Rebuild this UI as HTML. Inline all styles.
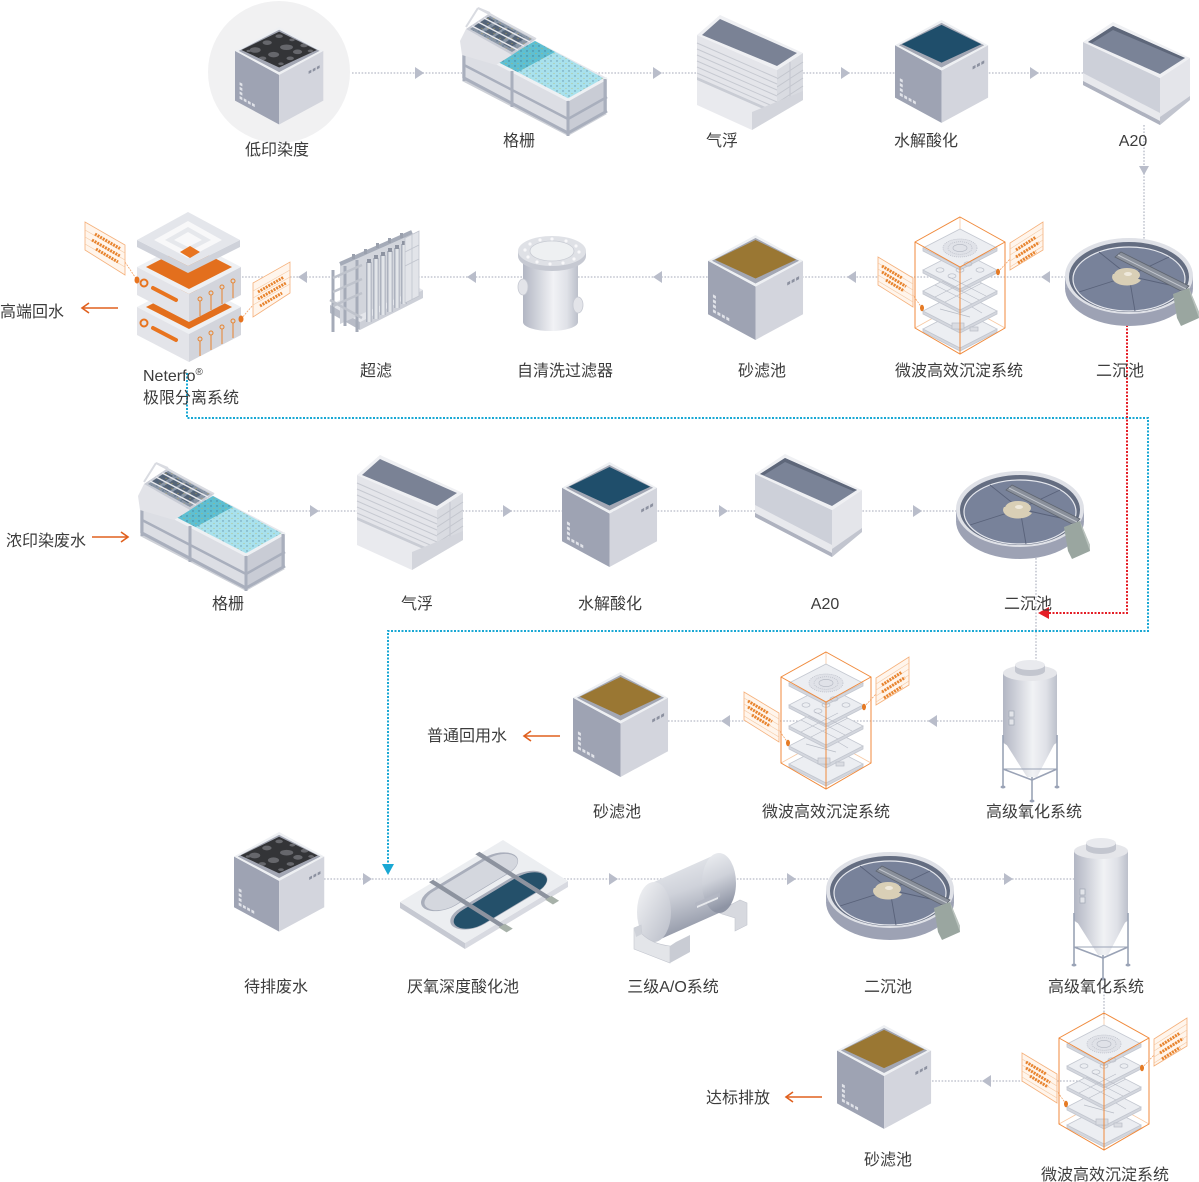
<!DOCTYPE html>
<html><head><meta charset="utf-8">
<style>
html,body{margin:0;padding:0;background:#fff;}
svg{display:block;}
text{font-family:"Liberation Sans","Noto Sans CJK SC",sans-serif;font-size:16px;fill:#3c3c3c;}
</style></head><body>
<svg width="1199" height="1182" viewBox="0 0 1199 1182" xmlns="http://www.w3.org/2000/svg" xmlns:xlink="http://www.w3.org/1999/xlink">
<defs>
 <linearGradient id="gTank" x1="0" y1="0" x2="1" y2="0">
  <stop offset="0" stop-color="#b2b6c3"/><stop offset="0.55" stop-color="#f1f2f5"/><stop offset="0.8" stop-color="#dfe1e7"/><stop offset="1" stop-color="#bcc0cb"/>
 </linearGradient>
 <linearGradient id="gTube" x1="0" y1="0" x2="1" y2="0">
  <stop offset="0" stop-color="#9fa5b3"/><stop offset="0.5" stop-color="#eef0f3"/><stop offset="1" stop-color="#aeb3bf"/>
 </linearGradient>
 <linearGradient id="gAO" x1="0" y1="0" x2="0.25" y2="1">
  <stop offset="0" stop-color="#eef0f3"/><stop offset="0.5" stop-color="#cfd2da"/><stop offset="1" stop-color="#8e94a4"/>
 </linearGradient>
 <linearGradient id="gAOcap" x1="0" y1="0" x2="1" y2="1">
  <stop offset="0" stop-color="#f3f4f6"/><stop offset="1" stop-color="#b9bdc8"/>
 </linearGradient>
 <pattern id="pDots" width="6" height="5" patternUnits="userSpaceOnUse">
  <circle cx="1" cy="1" r="0.7" fill="#3b5d78"/><circle cx="4" cy="3.5" r="0.6" fill="#c2ad4c"/>
 </pattern>
 <clipPath id="cTop"><polygon points="48,5 89,25 48,44 7,25"/></clipPath>

 <g id="cube">
  <polygon points="0,26 48,52 48,106 0,80" fill="#9ea3b3"/>
  <polygon points="48,52 96,26 96,80 48,106" fill="#d3d5dd"/>
  <polygon points="48,0 96,26 48,52 0,26" fill="#eef0f3"/>
  <polygon points="48,3 92,26 48,49 4,26" fill="#a3a7b4"/>
  <polygon points="48,5 89,25 48,44 7,25" fill="currentColor"/>
  <polygon points="80,48 83,46.4 83,49.4 80,51" fill="#8c91a0"/>
  <polygon points="84.5,45.6 87.5,44 87.5,47 84.5,48.6" fill="#8c91a0"/>
  <polygon points="89,43.2 92,41.6 92,44.6 89,46.2" fill="#8c91a0"/>
  <polygon points="5,60 8,61.6 8,64.6 5,63" fill="#e1e3e9"/>
  <polygon points="5,65 8,66.6 8,69.6 5,68" fill="#e1e3e9"/>
  <polygon points="5,70 8,71.6 8,74.6 5,73" fill="#e1e3e9"/>
  <polygon points="5,75 8,76.6 8,79.6 5,78" fill="#e1e3e9"/>
  <polygon points="9.5,77.5 12.5,79.1 12.5,82.1 9.5,80.5" fill="#e1e3e9"/>
  <polygon points="14,80 17,81.6 17,84.6 14,83" fill="#e1e3e9"/>
  <polygon points="18.5,82.5 21.5,84.1 21.5,87.1 18.5,85.5" fill="#e1e3e9"/>
 </g>
 <g id="cubeDirty">
  <use xlink:href="#cube" color="#333437"/>
  <g clip-path="url(#cTop)" fill="#66676c">
   <ellipse cx="22" cy="25" rx="6" ry="3"/>
   <ellipse cx="35" cy="17" rx="5" ry="2.5"/>
   <ellipse cx="48" cy="10" rx="4" ry="2"/>
   <ellipse cx="56" cy="22" rx="7" ry="3"/>
   <ellipse cx="42" cy="30" rx="6" ry="3"/>
   <ellipse cx="68" cy="27" rx="5" ry="2.5"/>
   <ellipse cx="60" cy="34" rx="4" ry="2"/>
   <ellipse cx="30" cy="34" rx="4" ry="2"/>
   <ellipse cx="75" cy="20" rx="4" ry="2"/>
   <ellipse cx="50" cy="40" rx="3" ry="1.5"/>
   <ellipse cx="15" cy="26" rx="2.5" ry="1.3"/>
   <ellipse cx="82" cy="26" rx="3" ry="1.5"/>
   <ellipse cx="62" cy="14" rx="3" ry="1.5"/>
  </g>
 </g>

 <g id="a20">
  <polygon points="0,25 77,61 77,108 0,68" fill="#cdd0d9"/>
  <polygon points="0,56 77,96 77,104 0,64" fill="#e8e9ed"/>
  <polygon points="0,64 77,104 77,108 0,68" fill="#aeb2bf"/>
  <polygon points="77,61 107,41 107,83 77,108" fill="#e4e5ea"/>
  <polygon points="77,100 107,79 107,83 77,108" fill="#c2c5cf"/>
  <polygon points="0,25 30,5 107,41 77,61" fill="#eff0f3"/>
  <polygon points="5,25 30,9 102,41 77,57" fill="#7a8397"/>
  <polygon points="5,25 30,9 102,41 98,42 30,13 9,26" fill="#5e677a"/>
 </g>

 <g id="float">
  <polygon points="82,59 108,42 108,86 82,101" fill="#d9dbe1"/>
  <line x1="95" y1="51" x2="95" y2="94" stroke="#c3c6ce" stroke-width="1"/>
  <line x1="82" y1="68" x2="108" y2="51" stroke="#c3c6ce"/>
  <line x1="82" y1="76" x2="108" y2="59" stroke="#c3c6ce"/>
  <line x1="82" y1="84" x2="108" y2="67" stroke="#c3c6ce"/>
  <line x1="82" y1="92" x2="108" y2="75" stroke="#c3c6ce"/>
  <polygon points="2,24 82,59 82,101 2,66" fill="#e4e5ea"/>
  <line x1="2" y1="32" x2="82" y2="67" stroke="#c6c9d1"/>
  <line x1="2" y1="38" x2="82" y2="73" stroke="#c6c9d1"/>
  <line x1="2" y1="44" x2="82" y2="79" stroke="#c6c9d1"/>
  <line x1="2" y1="50" x2="82" y2="85" stroke="#c6c9d1"/>
  <line x1="2" y1="56" x2="82" y2="91" stroke="#c6c9d1"/>
  <line x1="2" y1="62" x2="82" y2="97" stroke="#c6c9d1"/>
  <polygon points="2,66 82,101 108,86 108,89 57,119 2,94" fill="#e9eaee"/>
  <polygon points="2,66 82,101 82,104 2,69" fill="#c9ccd4"/>
  <polygon points="57,101 108,80 108,89 57,119" fill="#d3d5dc"/>
  <polygon points="2,24 25,4 108,42 82,59" fill="#eff0f3"/>
  <polygon points="7,24 25,8 102,42 82,55" fill="#7a8295"/>
 </g>

 <g id="screen">
  <polygon points="2,76 108,131 147,109 41,54" fill="#cdd0d7"/>
  <polygon points="41,18 147,73 147,106 41,51" fill="#e6e7ec"/>
  <polygon points="2,40 41,18 41,51 2,73" fill="#dcdee4"/>
  <polygon points="36,58 75,36 145,74 106,95" fill="#a8e1ed"/>
  <polygon points="36,58 75,36 145,74 106,95" fill="url(#pDots)" opacity="0.6"/>
  <polygon points="36,58 75,36 95,47 56,68" fill="#5ebfd2"/>
  <polygon points="36,58 75,36 95,47 56,68" fill="url(#pDots)" opacity="0.7"/>
  <polygon points="2,40 108,95 108,128 2,73" fill="#dcdee4"/>
  <polygon points="108,95 147,73 147,106 108,128" fill="#c9ccd5"/>
  <line x1="2" y1="40" x2="108" y2="95" stroke="#eef0f3" stroke-width="3"/>
  <line x1="108" y1="95" x2="147" y2="73" stroke="#eef0f3" stroke-width="3"/>
  <line x1="4" y1="60" x2="108" y2="114" stroke="#a9afbd" stroke-width="2.5"/>
  <line x1="4" y1="73" x2="108" y2="128" stroke="#a9afbd" stroke-width="3"/>
  <line x1="108" y1="128" x2="147" y2="106" stroke="#a9afbd" stroke-width="3"/>
  <line x1="108" y1="114" x2="147" y2="92" stroke="#a9afbd" stroke-width="2.5"/>
  <line x1="4" y1="41" x2="4" y2="76" stroke="#a9afbd" stroke-width="3"/>
  <line x1="52" y1="66" x2="52" y2="102" stroke="#a9afbd" stroke-width="3"/>
  <line x1="108" y1="96" x2="108" y2="131" stroke="#a9afbd" stroke-width="3"/>
  <line x1="145" y1="74" x2="145" y2="108" stroke="#a9afbd" stroke-width="3"/>
  <polygon points="0,36 6,24 52,50 36,60 2,50" fill="#e2e3e8"/>
  <polygon points="6,24 30,8 76,34 52,50" fill="#c9ccd5"/>
  <polygon points="10,24 30,11 72,34 52,47" fill="#8a96a6"/>
  <g fill="#566578">
   <polygon points="13,22 28,12 35,16 20,26"/>
   <polygon points="23,28 38,18 45,22 30,32"/>
   <polygon points="33,33 48,23 55,27 40,37"/>
   <polygon points="43,39 58,29 65,33 50,43"/>
  </g>
  <polygon points="10,24 30,11 72,34 52,47" fill="url(#pDots)" opacity="0.6"/>
  <line x1="12" y1="21" x2="58" y2="45" stroke="#e8e9ee" stroke-width="1.5"/>
  <line x1="18" y1="17" x2="64" y2="41" stroke="#e8e9ee" stroke-width="1.5"/>
  <line x1="24" y1="13" x2="70" y2="37" stroke="#e8e9ee" stroke-width="1.5"/>
  <line x1="18" y1="3" x2="76" y2="34" stroke="#d9dbe1" stroke-width="2"/>
  <line x1="6" y1="22" x2="18" y2="3" stroke="#d9dbe1" stroke-width="2"/>
  <line x1="30" y1="8" x2="18" y2="3" stroke="#d9dbe1" stroke-width="2"/>
 </g>

 <g id="clar">
  <ellipse cx="0" cy="12" rx="64" ry="38" fill="#9da2b4"/>
  <rect x="-64" y="0" width="128" height="12" fill="#a3a8b9"/>
  <ellipse cx="0" cy="0" rx="64" ry="38" fill="#dfe1e7"/>
  <ellipse cx="0" cy="1" rx="60" ry="35" fill="#646d81"/>
  <ellipse cx="0" cy="3" rx="56" ry="32" fill="#78829a" stroke="#e6e8ee" stroke-width="1.2"/>
  <g stroke="#59627a" stroke-width="0.9">
   <line x1="0" y1="0" x2="-30" y2="-24"/>
   <line x1="0" y1="0" x2="40" y2="-19"/>
   <line x1="0" y1="0" x2="-50" y2="16"/>
   <line x1="0" y1="0" x2="6" y2="35"/>
   <line x1="0" y1="0" x2="54" y2="12"/>
  </g>
  <path d="M-16,-2 A14,8 0 0 0 12,4 L-2,-2 Z" fill="#d9cfb6"/>
  <ellipse cx="-2" cy="-1" rx="13" ry="7" fill="#d9cfb6"/>
  <ellipse cx="-1" cy="-2" rx="4" ry="2" fill="#efe9dc"/>
  <polygon points="-14,-19 -8,-24 60,10 54,16" fill="#8a909b" stroke="#5f6570" stroke-width="0.8"/>
  <line x1="-11" y1="-21" x2="57" y2="13" stroke="#c2c6ce" stroke-width="1"/>
  <polygon points="44,18 60,12 70,36 70,42 52,50 48,42" fill="#9aa6a0"/>
  <polygon points="60,12 70,36 70,42 62,20" fill="#b9c2bd"/>
 </g>

 <g id="mw">
  <line x1="-38" y1="91" x2="-47" y2="78" stroke="#f2a469" stroke-width="0.8" stroke-dasharray="2 1"/>
  <line x1="38" y1="55" x2="50" y2="42" stroke="#f2a469" stroke-width="0.8" stroke-dasharray="2 1"/>
  <polygon points="-82,40 -47,61 -47,90 -82,68" fill="#fff5ec" stroke="#f5b07a" stroke-width="0.8"/>
  <g stroke="#f5c9a3" stroke-width="0.6">
   <line x1="-82" y1="46" x2="-47" y2="67"/><line x1="-82" y1="52" x2="-47" y2="73"/><line x1="-82" y1="58" x2="-47" y2="79"/><line x1="-82" y1="64" x2="-47" y2="85"/>
  </g>
  <g stroke="#e8842e" stroke-width="3" stroke-dasharray="2 1">
   <line x1="-78" y1="49" x2="-58" y2="61"/><line x1="-78" y1="55" x2="-54" y2="69.5"/><line x1="-74" y1="63" x2="-56" y2="74"/>
  </g>
  <polygon points="50,26 83,5 83,33 50,53" fill="#fff5ec" stroke="#f5b07a" stroke-width="0.8"/>
  <g stroke="#f5c9a3" stroke-width="0.6">
   <line x1="50" y1="32" x2="83" y2="11"/><line x1="50" y1="38" x2="83" y2="17"/><line x1="50" y1="44" x2="83" y2="23"/><line x1="50" y1="50" x2="83" y2="29"/>
  </g>
  <g stroke="#e8842e" stroke-width="3" stroke-dasharray="2 1">
   <line x1="56" y1="33" x2="76" y2="20"/><line x1="56" y1="40" x2="79" y2="25.5"/><line x1="58" y1="46" x2="76" y2="34.5"/>
  </g>
  <line x1="0" y1="0" x2="0" y2="86" stroke="#f7c8a2" stroke-width="0.8"/>
  <line x1="-45" y1="111" x2="0" y2="86" stroke="#f7c8a2" stroke-width="0.8"/>
  <line x1="45" y1="111" x2="0" y2="86" stroke="#f7c8a2" stroke-width="0.8"/>
  <g stroke="#c3c7d0" stroke-width="0.8">
   <polygon points="-37,112 0,131 37,112 37,115 0,134 -37,115" fill="#d4d7de"/>
   <polygon points="0,93 37,112 0,131 -37,112" fill="#eceef2"/>
   <polygon points="-37,94 0,113 37,94 37,97 0,116 -37,97" fill="#d4d7de"/>
   <polygon points="0,75 37,94 0,113 -37,94" fill="#eceef2"/>
   <polygon points="-37,74 0,93 37,74 37,77 0,96 -37,77" fill="#d4d7de"/>
   <polygon points="0,55 37,74 0,93 -37,74" fill="#eceef2"/>
   <polygon points="-37,53 0,72 37,53 37,56 0,75 -37,56" fill="#d4d7de"/>
   <polygon points="0,34 37,53 0,72 -37,53" fill="#eceef2"/>
   <polygon points="-37,31 0,50 37,31 37,34 0,53 -37,34" fill="#d4d7de"/>
   <polygon points="0,12 37,31 0,50 -37,31" fill="#eceef2"/>
  </g>
  <g fill="none" stroke="#b8bcc6" stroke-width="0.7">
   <ellipse cx="0" cy="31" rx="17" ry="9" fill="#e0e2e8" stroke-dasharray="1 1"/>
   <ellipse cx="0" cy="31" rx="12" ry="6.3" stroke-dasharray="1 1"/>
   <ellipse cx="0" cy="31" rx="7" ry="3.6"/>
   <ellipse cx="-20" cy="53" rx="4" ry="2.2"/><ellipse cx="-8" cy="59" rx="4" ry="2.2"/><ellipse cx="8" cy="47" rx="4" ry="2.2"/><ellipse cx="20" cy="53" rx="4" ry="2.2"/><ellipse cx="0" cy="53" rx="4" ry="2.2"/>
   <line x1="-25" y1="68" x2="12" y2="87"/><line x1="-18" y1="64" x2="19" y2="83"/><line x1="-11" y1="60" x2="26" y2="79"/><line x1="-25" y1="80" x2="12" y2="61"/><line x1="-15" y1="85" x2="22" y2="66"/>
   <line x1="-20" y1="92" x2="10" y2="100"/><line x1="12" y1="90" x2="22" y2="96"/>
   <rect x="-8" y="106" width="12" height="6" fill="#dadce2"/><rect x="10" y="110" width="8" height="4" fill="#dadce2"/>
  </g>
  <g fill="none" stroke="#f08a3c" stroke-width="1">
   <polygon points="0,0 45,25 45,111 0,137 -45,111 -45,25"/>
   <polyline points="-45,25 0,50 45,25"/>
   <line x1="0" y1="50" x2="0" y2="137"/>
  </g>
  <ellipse cx="38" cy="55" rx="2" ry="3.2" fill="#e57a24"/>
  <ellipse cx="-38" cy="91" rx="2" ry="3.2" fill="#e57a24"/>
 </g>

 <g id="tower">
  <line x1="2" y1="74" x2="2" y2="127" stroke="#9aa3b6" stroke-width="1.6"/>
  <polygon points="-27,66 27,66 7,104 -3,104" fill="url(#gTank)"/>
  <rect x="-27" y="0" width="54" height="68" fill="url(#gTank)"/>
  <ellipse cx="0" cy="68" rx="27" ry="8" fill="url(#gTank)"/>
  <ellipse cx="0" cy="0" rx="27" ry="8" fill="#e5e6ea"/>
  <rect x="-15" y="-8" width="30" height="6" fill="#c3c6cf"/>
  <ellipse cx="0" cy="-2" rx="15" ry="5" fill="#c3c6cf"/>
  <ellipse cx="0" cy="-8" rx="15" ry="5" fill="#e9eaee"/>
  <rect x="-21" y="38" width="5" height="6" fill="#e2e4e9" stroke="#9fa5b3" stroke-width="0.7"/>
  <rect x="-21" y="46" width="5" height="6" fill="#e2e4e9" stroke="#9fa5b3" stroke-width="0.7"/>
  <g stroke="#9aa3b6" stroke-width="1.6" fill="none">
   <line x1="-27" y1="62" x2="-27" y2="113"/>
   <line x1="27" y1="62" x2="27" y2="113"/>
   <polyline points="-27,96 2,107 27,96"/>
   <line x1="-27" y1="96" x2="27" y2="96" stroke-width="1"/>
  </g>
  <ellipse cx="-27" cy="114" rx="2.5" ry="1.5" fill="#9aa3b6"/>
  <ellipse cx="27" cy="114" rx="2.5" ry="1.5" fill="#9aa3b6"/>
  <ellipse cx="2" cy="128" rx="2.5" ry="1.5" fill="#9aa3b6"/>
 </g>
</defs>

<circle cx="279" cy="72" r="71" fill="#f1f1f2"/>

<g stroke="#c3c6d0" stroke-width="1.6" stroke-dasharray="1.6 1.6" fill="none">
 <path d="M352,73 H1083"/>
 <path d="M1144,125 V245"/>
 <path d="M242,277 H1070"/>
 <path d="M248,511 H960"/>
 <path d="M1036,558 V665"/>
 <path d="M668,721 H1003"/>
 <path d="M324,879 H1075"/>
 <path d="M1104,985 V1020"/>
 <path d="M932,1081 H1100"/>
</g>
<g fill="#b9bdca">
 <polygon points="415,67 424,73 415,79"/>
 <polygon points="653,67 662,73 653,79"/>
 <polygon points="841,67 850,73 841,79"/>
 <polygon points="1030,67 1039,73 1030,79"/>
 <polygon points="1139,166 1149,166 1144,175"/>
 <polygon points="1050,271 1041,277 1050,283"/>
 <polygon points="856,271 847,277 856,283"/>
 <polygon points="662,271 653,277 662,283"/>
 <polygon points="476,271 467,277 476,283"/>
 <polygon points="307,271 298,277 307,283"/>
 <polygon points="310,505 319,511 310,517"/>
 <polygon points="503,505 512,511 503,517"/>
 <polygon points="719,505 728,511 719,517"/>
 <polygon points="913,505 922,511 913,517"/>
 <polygon points="937,715 928,721 937,727"/>
 <polygon points="730,715 721,721 730,727"/>
 <polygon points="363,873 372,879 363,885"/>
 <polygon points="609,873 618,879 609,885"/>
 <polygon points="787,873 796,879 787,885"/>
 <polygon points="1004,873 1013,879 1004,885"/>
 <polygon points="991,1075 982,1081 991,1087"/>
</g>

<path d="M187,373 V418 H1148 V631 H388 V866" fill="none" stroke="#19a8d4" stroke-width="2" stroke-dasharray="2 1.5"/>
<polygon points="382,864 394,864 388,875" fill="#19a8d4"/>
<path d="M1127,325 V613 H1048" fill="none" stroke="#e41e26" stroke-width="2" stroke-dasharray="2 1.5"/>
<polygon points="1049,607 1049,619 1038,613" fill="#e41e26"/>

<g stroke="#e0601e" stroke-width="1.6" fill="none">
 <line x1="82" y1="308" x2="118" y2="308"/><polyline points="89,303 82,308 89,313"/>
 <line x1="92" y1="537" x2="128" y2="537"/><polyline points="121,532 128,537 121,542"/>
 <line x1="524" y1="736" x2="560" y2="736"/><polyline points="531,731 524,736 531,741"/>
 <line x1="786" y1="1097" x2="822" y2="1097"/><polyline points="793,1092 786,1097 793,1102"/>
</g>

<!-- ROW 1 -->
<use xlink:href="#cubeDirty" transform="translate(235,27) scale(0.92)"/>
<use xlink:href="#screen" transform="translate(460,5)"/>
<use xlink:href="#float" transform="translate(695,11)"/>
<use xlink:href="#cube" color="#1f4e6b" transform="translate(895,20) scale(0.97)"/>
<use xlink:href="#a20" transform="translate(1083,17)"/>

<!-- ROW 2 -->
<use xlink:href="#clar" transform="translate(1129,276)"/>
<use xlink:href="#mw" transform="translate(960,217)"/>
<use xlink:href="#cube" color="#9a7733" transform="translate(708,235) scale(0.99)"/>

<g>
 <rect x="523" y="258" width="55" height="64" fill="url(#gTank)"/>
 <ellipse cx="550.5" cy="322" rx="27.5" ry="9" fill="url(#gTank)"/>
 <ellipse cx="552" cy="256" rx="34" ry="15" fill="#c6c9d2"/>
 <rect x="518" y="251" width="68" height="5" fill="#c6c9d2"/>
 <ellipse cx="552" cy="251" rx="34" ry="15" fill="#dfe1e6"/>
 <ellipse cx="552" cy="251" rx="22" ry="10" fill="#eef0f2" stroke="#c9ccd4" stroke-width="0.8"/>
 <g fill="#f8f8fa">
  <circle cx="552" cy="239" r="1.6"/><circle cx="566" cy="241" r="1.6"/><circle cx="576" cy="246" r="1.6"/><circle cx="579" cy="252" r="1.6"/><circle cx="574" cy="259" r="1.6"/><circle cx="563" cy="263" r="1.6"/><circle cx="550" cy="264" r="1.6"/><circle cx="537" cy="262" r="1.6"/><circle cx="528" cy="257" r="1.6"/><circle cx="525" cy="250" r="1.6"/><circle cx="530" cy="244" r="1.6"/><circle cx="540" cy="240" r="1.6"/>
 </g>
 <ellipse cx="523" cy="287" rx="5" ry="8" fill="#e3e4e9" stroke="#c6c9d2" stroke-width="0.8"/>
 <ellipse cx="578" cy="305" rx="5" ry="8" fill="#e3e4e9" stroke="#c6c9d2" stroke-width="0.8"/>
</g>

<!-- ultrafilter -->
<g>
 <polygon points="330,305 360,322 423,290 393,274" fill="#e4e6eb"/>
 <polygon points="330,305 360,322 360,330 330,313" fill="#b8bcc7"/>
 <polygon points="360,322 423,290 423,298 360,330" fill="#cdd0d8"/>
 <polygon points="340,264 410,232 410,292 340,324" fill="#d2d5dc"/>
 <g stroke="#a5abb8" stroke-width="3">
  <line x1="333" y1="270" x2="333" y2="332"/>
  <line x1="345" y1="266" x2="345" y2="326"/>
  <line x1="357" y1="260" x2="357" y2="332"/>
 </g>
 <g stroke="#bfc3cc" stroke-width="2.5">
  <line x1="333" y1="278" x2="362" y2="265"/>
  <line x1="333" y1="292" x2="362" y2="279"/>
  <line x1="333" y1="306" x2="362" y2="293"/>
  <line x1="330" y1="300" x2="362" y2="318"/>
 </g>
 <line x1="340" y1="264" x2="412" y2="232" stroke="#a5abb8" stroke-width="4"/>
 <g fill="#9aa0ad">
  <rect x="352" y="254" width="3" height="5"/><rect x="364" y="249" width="3" height="5"/><rect x="376" y="243" width="3" height="5"/><rect x="388" y="238" width="3" height="5"/><rect x="400" y="233" width="3" height="5"/>
 </g>
 <g fill="url(#gTube)">
  <rect x="366" y="262" width="6" height="60"/>
  <rect x="373" y="258" width="6" height="61"/>
  <rect x="380" y="255" width="6" height="60"/>
  <rect x="387" y="251" width="6" height="61"/>
  <rect x="394" y="248" width="6" height="60"/>
  <rect x="401" y="244" width="6" height="60"/>
 </g>
 <g fill="#8d93a1">
  <rect x="367" y="259" width="4" height="4"/><rect x="374" y="255" width="4" height="4"/><rect x="381" y="252" width="4" height="4"/><rect x="388" y="248" width="4" height="4"/><rect x="395" y="245" width="4" height="4"/><rect x="402" y="241" width="4" height="4"/>
 </g>
 <polygon points="405,238 419,231 419,296 405,303" fill="#e2e4e9" stroke="#c0c4cd" stroke-width="0.8"/>
 <g stroke="#c0c4cd" stroke-width="0.8"><line x1="405" y1="252" x2="419" y2="245"/><line x1="405" y1="266" x2="419" y2="259"/><line x1="412" y1="235" x2="412" y2="300"/></g>
</g>

<!-- Neterfo -->
<g>
 <line x1="125" y1="262" x2="137" y2="280" stroke="#f2a469" stroke-width="0.8" stroke-dasharray="2 1"/>
 <polygon points="85,222 125,245 125,275 85,250" fill="#fff5ec" stroke="#f5b07a" stroke-width="0.8"/>
 <g stroke="#f5c9a3" stroke-width="0.6"><line x1="85" y1="230" x2="125" y2="253"/><line x1="85" y1="237" x2="125" y2="260"/><line x1="85" y1="244" x2="125" y2="267"/></g>
 <g stroke="#e8842e" stroke-width="3" stroke-dasharray="2 1">
  <line x1="95" y1="234" x2="120" y2="248.5"/><line x1="92" y1="240" x2="120" y2="256"/><line x1="96" y1="249" x2="118" y2="262"/>
 </g>
 <line x1="241" y1="319" x2="253" y2="305" stroke="#f2a469" stroke-width="0.8" stroke-dasharray="2 1"/>
 <polygon points="253,283 290,262 290,293 253,317" fill="#fff5ec" stroke="#f5b07a" stroke-width="0.8"/>
 <g stroke="#f5c9a3" stroke-width="0.6"><line x1="253" y1="291" x2="290" y2="270"/><line x1="253" y1="298" x2="290" y2="277"/><line x1="253" y1="305" x2="290" y2="284"/></g>
 <g stroke="#e8842e" stroke-width="3" stroke-dasharray="2 1">
  <line x1="258" y1="292" x2="284" y2="277"/><line x1="258" y1="299" x2="286" y2="283"/><line x1="260" y1="306" x2="282" y2="293"/>
 </g>
 <polygon points="189,280 241,307 189,334 137,307" fill="#eef0f3"/>
 <polygon points="189,285 232,307 189,329 146,307" fill="#e36f1d"/>
 <polygon points="189,292 218,307 189,322 160,307" fill="#f08a38"/>
 <polygon points="137,307 189,334 189,362 137,335" fill="#e3e4e9"/>
 <polygon points="189,334 241,307 241,335 189,362" fill="#d3d5dc"/>
 <circle cx="144" cy="323" r="3.5" fill="none" stroke="#e8741f" stroke-width="2"/>
 <line x1="153" y1="328" x2="176" y2="340" stroke="#e8741f" stroke-width="4" stroke-linecap="round"/>
 <g stroke="#e8842e" stroke-width="1" fill="#d3d5dc">
  <line x1="200" y1="340" x2="200" y2="356"/><line x1="211" y1="334" x2="211" y2="350"/><line x1="222" y1="328" x2="222" y2="344"/><line x1="233" y1="322" x2="233" y2="338"/>
  <circle cx="200" cy="339" r="2"/><circle cx="211" cy="333" r="2"/><circle cx="222" cy="327" r="2"/><circle cx="233" cy="321" r="2"/>
 </g>
 <polygon points="189,240 241,267 189,294 137,267" fill="#eef0f3"/>
 <polygon points="189,245 232,267 189,289 146,267" fill="#e36f1d"/>
 <polygon points="137,267 189,294 189,322 137,295" fill="#e3e4e9"/>
 <polygon points="189,294 241,267 241,295 189,322" fill="#d3d5dc"/>
 <circle cx="144" cy="283" r="3.5" fill="none" stroke="#e8741f" stroke-width="2"/>
 <line x1="153" y1="288" x2="176" y2="300" stroke="#e8741f" stroke-width="4" stroke-linecap="round"/>
 <g stroke="#e8842e" stroke-width="1" fill="#d3d5dc">
  <line x1="200" y1="300" x2="200" y2="316"/><line x1="211" y1="294" x2="211" y2="310"/><line x1="222" y1="288" x2="222" y2="304"/><line x1="233" y1="282" x2="233" y2="298"/>
  <circle cx="200" cy="299" r="2"/><circle cx="211" cy="293" r="2"/><circle cx="222" cy="287" r="2"/><circle cx="233" cy="281" r="2"/>
 </g>
 <polygon points="137,240 188,266 240,240 240,247 188,273 137,247" fill="#cfd2da"/>
 <polygon points="188,212 240,240 188,266 137,240" fill="#e4e6eb"/>
 <polygon points="188,221 222,240 188,258 154,240" fill="#f8f8f9"/>
 <polygon points="188,227 211,240 188,252 165,240" fill="#e6e8ec"/>
 <polygon points="188,232 202,240 188,247 174,240" fill="#f8f8f9"/>
 <polygon points="190,246 200,252 190,258 180,252" fill="#e8741f"/>
 <ellipse cx="137" cy="280" rx="2.5" ry="3.5" fill="#e8741f"/>
 <ellipse cx="241" cy="319" rx="2.5" ry="3.5" fill="#e8741f"/>
</g>

<!-- ROW 3 -->
<use xlink:href="#screen" transform="translate(138,460)"/>
<use xlink:href="#float" transform="translate(355,451)"/>
<use xlink:href="#cube" color="#1f4e6b" transform="translate(562,462) scale(0.99)"/>
<use xlink:href="#a20" transform="translate(755,449)"/>
<use xlink:href="#clar" transform="translate(1020,509)"/>

<!-- ROW 4 -->
<use xlink:href="#tower" transform="translate(1030,673)"/>
<use xlink:href="#mw" transform="translate(826,652)"/>
<use xlink:href="#cube" color="#9a7733" transform="translate(573,672) scale(0.99)"/>

<!-- ROW 5 -->
<use xlink:href="#cubeDirty" transform="translate(234,832) scale(0.94)"/>
<g>
 <polygon points="400,902 465,943 465,949 400,908" fill="#c6c9d2"/>
 <polygon points="465,943 568,881 568,887 465,949" fill="#d8dae1"/>
 <g transform="matrix(1.03,-0.62,0.65,0.41,400,902)">
  <rect x="0" y="0" width="100" height="100" fill="#eceef1"/>
  <rect x="7" y="8" width="87" height="38" rx="18" ry="19" fill="#a9aebb"/>
  <rect x="9" y="12" width="84" height="33" rx="16" ry="16" fill="#d4d7de"/>
  <rect x="7" y="53" width="87" height="38" rx="18" ry="19" fill="#a9aebb"/>
  <rect x="9" y="57" width="84" height="33" rx="16" ry="16" fill="#24506a"/>
  <rect x="30" y="-3" width="4" height="112" fill="#8d939f"/>
  <rect x="75" y="-3" width="4" height="112" fill="#8d939f"/>
  <rect x="29" y="106" width="6" height="12" fill="#a7b1a9"/>
  <rect x="74" y="106" width="6" height="12" fill="#a7b1a9"/>
 </g>
</g>
<!-- A/O tank -->
<g>
 <polygon points="717,912 740,900 747,903 747,925 735,931 735,918 722,914" fill="#d7d9df" stroke="#c3c6cf" stroke-width="0.6"/>
 <polygon points="654,882 719,853 719,913 654,942" fill="url(#gAO)"/>
 <ellipse cx="719" cy="883" rx="17" ry="30" fill="url(#gAO)"/>
 <polygon points="695,903 720,892 720,897 695,908" fill="#b3b7c3"/>
 <polygon points="697,906 718,897 718,899 697,908" fill="#e6e8ec"/>
 <ellipse cx="654" cy="912" rx="17" ry="30" fill="url(#gAOcap)"/>
 <path d="M634,928 L634,949 L670,963 L670,946 Q652,944 642,934 L641,925 Z" fill="#e3e5e9" stroke="#c3c6cf" stroke-width="0.6"/>
 <polygon points="670,946 676,942 690,935 690,952 670,963" fill="#c9ccd4"/>
 <polygon points="634,928 641,925 642,934 636,937" fill="#cfd2d9"/>
</g>
<use xlink:href="#clar" transform="translate(890,890)"/>
<use xlink:href="#tower" transform="translate(1101,851)"/>

<!-- ROW 6 -->
<use xlink:href="#mw" transform="translate(1104,1013)"/>
<use xlink:href="#cube" color="#9a7733" transform="translate(837,1025) scale(0.98)"/>

<g text-anchor="middle">
 <text x="277" y="155">低印染度</text>
 <text x="519" y="146">格栅</text>
 <text x="722" y="146">气浮</text>
 <text x="926" y="146">水解酸化</text>
 <text x="1133" y="146">A20</text>
 <text x="376" y="376">超滤</text>
 <text x="565" y="376">自清洗过滤器</text>
 <text x="762" y="376">砂滤池</text>
 <text x="959" y="376">微波高效沉淀系统</text>
 <text x="1120" y="376">二沉池</text>
 <text x="228" y="609">格栅</text>
 <text x="417" y="609">气浮</text>
 <text x="610" y="609">水解酸化</text>
 <text x="825" y="609">A20</text>
 <text x="1028" y="609">二沉池</text>
 <text x="617" y="817">砂滤池</text>
 <text x="826" y="817">微波高效沉淀系统</text>
 <text x="1034" y="817">高级氧化系统</text>
 <text x="276" y="992">待排废水</text>
 <text x="463" y="992">厌氧深度酸化池</text>
 <text x="673" y="992">三级A/O系统</text>
 <text x="888" y="992">二沉池</text>
 <text x="1096" y="992">高级氧化系统</text>
 <text x="888" y="1165">砂滤池</text>
 <text x="1105" y="1180">微波高效沉淀系统</text>
</g>
<text x="0" y="317">高端回水</text>
<text x="143" y="381">Neterfo<tspan font-size="10" dy="-6">®</tspan></text>
<text x="143" y="403">极限分离系统</text>
<text x="6" y="546">浓印染废水</text>
<text x="427" y="741">普通回用水</text>
<text x="706" y="1103">达标排放</text>
</svg>
</body></html>
